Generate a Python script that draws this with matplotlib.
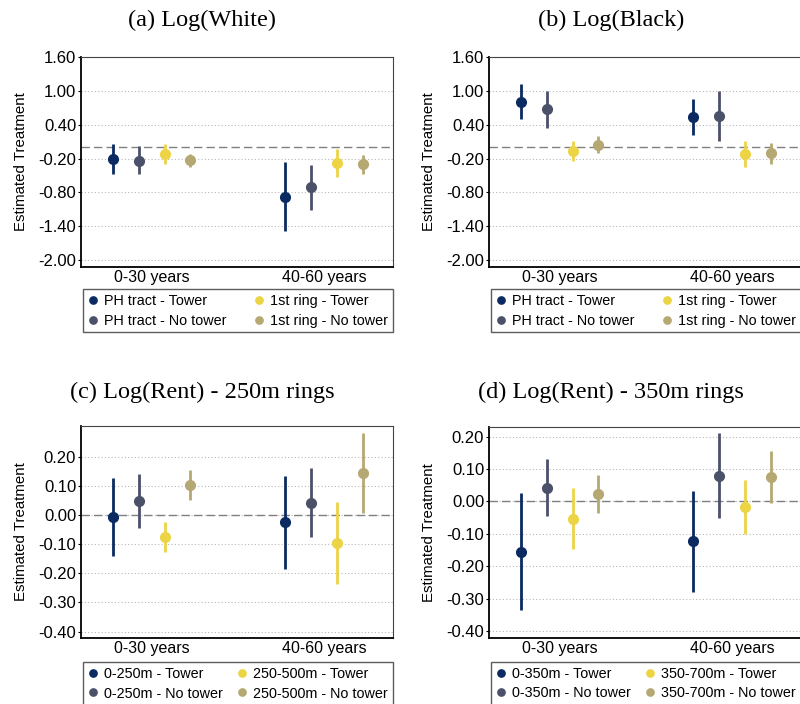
import numpy as np
import matplotlib
matplotlib.use("Agg")
import matplotlib.pyplot as plt

# categories
groups = ["0-30 years", "40-60 years"]

# series labels per panel
labels_ab = ["PH tract - Tower", "PH tract - No tower", "1st ring - Tower", "1st ring - No tower"]
labels_c = ["0-250m - Tower", "0-250m - No tower", "250-500m - Tower", "250-500m - No tower"]
labels_d = ["0-350m - Tower", "0-350m - No tower", "350-700m - Tower", "350-700m - No tower"]

# (a) Log(White): rows = series, cols = groups
white_est = [[-0.206, -0.876], [-0.241, -0.706], [-0.118, -0.276], [-0.218, -0.300]]
white_lo = [[-0.470, -1.488], [-0.470, -1.106], [-0.294, -0.524], [-0.341, -0.465]]
white_hi = [[0.065, -0.259], [0.018, -0.312], [0.053, -0.035], [-0.112, -0.135]]

# (b) Log(Black)
black_est = [[0.806, 0.535], [0.676, 0.553], [-0.065, -0.118], [0.047, -0.106]]
black_lo = [[0.494, 0.218], [0.347, 0.118], [-0.247, -0.347], [-0.094, -0.288]]
black_hi = [[1.124, 0.853], [1.006, 0.994], [0.112, 0.112], [0.200, 0.071]]

# (c) Log(Rent) - 250m rings
rent250_est = [[-0.006, -0.025], [0.047, 0.043], [-0.076, -0.096], [0.103, 0.144]]
rent250_lo = [[-0.141, -0.184], [-0.045, -0.074], [-0.127, -0.235], [0.051, 0.006]]
rent250_hi = [[0.128, 0.134], [0.140, 0.162], [-0.024, 0.045], [0.156, 0.283]]

# (d) Log(Rent) - 350m rings
rent350_est = [[-0.156, -0.123], [0.043, 0.080], [-0.053, -0.018], [0.023, 0.077]]
rent350_lo = [[-0.335, -0.279], [-0.044, -0.051], [-0.148, -0.102], [-0.036, -0.004]]
rent350_hi = [[0.025, 0.033], [0.130, 0.210], [0.043, 0.065], [0.081, 0.157]]

titles = ["(a) Log(White)", "(b) Log(Black)", "(c) Log(Rent) - 250m rings", "(d) Log(Rent) - 350m rings"]
ticks_top = [-2.0, -1.4, -0.8, -0.2, 0.4, 1.0, 1.6]
ticks_bot = [-0.4, -0.3, -0.2, -0.1, 0.0, 0.1, 0.2]

colors = ["#0b2a61", "#4b5169", "#ecd445", "#b6a872"]
offsets = [-0.225, -0.075, 0.075, 0.225]

plt.rcParams["font.family"] = ["Liberation Sans", "DejaVu Sans"]

W, H = 800, 704
fig = plt.figure(figsize=(8, 7.04), dpi=100)


def box(l, t, r, b):
    return [l / W, 1 - b / H, (r - l) / W, (b - t) / H]


panels = [
    (box(81, 57, 393, 267), white_est, white_lo, white_hi, labels_ab, ticks_top, (-2.12, 1.60), -0.105),
    (box(489, 57, 801, 267), black_est, black_lo, black_hi, labels_ab, ticks_top, (-2.12, 1.60), -0.105),
    (box(81, 426, 393, 638), rent250_est, rent250_lo, rent250_hi, labels_c, ticks_bot, (-0.422, 0.306), -0.113),
    (box(489, 427, 801, 638), rent350_est, rent350_lo, rent350_hi, labels_d, ticks_bot, (-0.422, 0.23), -0.113),
]

for pos, est, lo, hi, labs, yt, yl, legy in panels:
    ax = fig.add_axes(pos)
    x = np.arange(1, len(groups) + 1)
    for i in range(4):
        xs = x + offsets[i]
        ax.vlines(xs, lo[i], hi[i], color=colors[i], lw=2, zorder=3)
        ax.plot(xs, est[i], "o", color=colors[i], ms=7, zorder=4, label=labs[i])
    ax.axhline(0, color="#808080", lw=1, ls=(0, (6, 3)), zorder=2)
    ax.set_xlim(0.59, 2.4)
    ax.set_ylim(*yl)
    ax.set_yticks(yt)
    ax.set_yticklabels(["%.2f" % v for v in yt])
    ax.set_xticks(x)
    ax.set_xticklabels(groups)
    ax.grid(axis="y", ls=(0, (1, 2)), color="#b8b8b8", lw=0.8, zorder=1)
    ax.tick_params(axis="y", labelsize=12, length=2.5, width=0.8, pad=1)
    ax.tick_params(axis="x", labelsize=11.5, length=0, pad=2)
    for s in ["left", "bottom"]:
        ax.spines[s].set_linewidth(1.3)
        ax.spines[s].set_color("black")
    for s in ["top", "right"]:
        ax.spines[s].set_linewidth(0.8)
        ax.spines[s].set_color("#444444")
    ax.set_ylabel("Estimated Treatment", fontsize=10.8)
    ax.yaxis.set_label_coords(-0.17, 0.5)
    leg = ax.legend(loc="upper left", bbox_to_anchor=(0.006, legy, 0.994, 0), mode="expand",
                    ncol=2, fontsize=10.4, frameon=True, fancybox=False, handlelength=0.7,
                    handletextpad=0.45, labelspacing=0.4, borderpad=0.33, markerscale=0.75,
                    borderaxespad=0, columnspacing=0.8)
    leg.get_frame().set_edgecolor("#333333")
    leg.get_frame().set_linewidth(1.0)

title_pos = [(202.5, 20), (611, 20), (202.5, 392), (611, 392)]
for t, (tx, ty) in zip(titles, title_pos):
    fig.text(tx / W, 1 - ty / H, t, ha="center", va="center", fontsize=17.5,
             family=["Liberation Serif", "DejaVu Serif"])

fig.savefig("out.png", dpi=100)
